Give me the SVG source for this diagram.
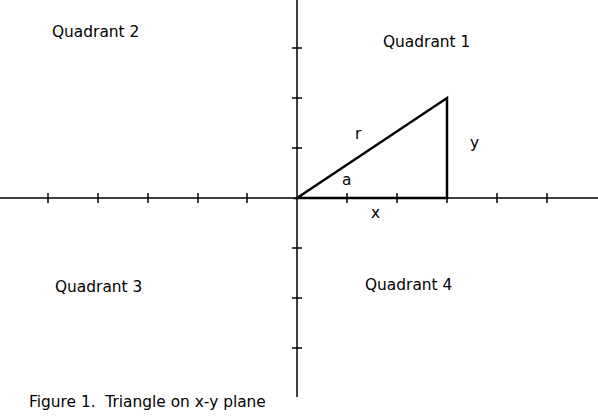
<svg xmlns="http://www.w3.org/2000/svg" width="598" height="418" viewBox="0 0 598 418">
<style>
text{font-family:"DejaVu Sans",sans-serif;font-size:15.4px;fill:#000;white-space:pre}
.ax{stroke:#000;stroke-width:1.5;fill:none}
.tk{stroke:#000;stroke-width:1.5}
.tri{stroke:#000;stroke-width:2.5;fill:none;stroke-linejoin:miter}
</style>
<rect width="598" height="418" fill="#fff"/>
<g id="axes">
<line class="ax" x1="0" y1="198" x2="598" y2="198"/>
<line class="ax" x1="297" y1="0" x2="297" y2="397"/>
<g id="xticks" class="tk">
<line x1="48" y1="193" x2="48" y2="203"/>
<line x1="98" y1="193" x2="98" y2="203"/>
<line x1="148" y1="193" x2="148" y2="203"/>
<line x1="198" y1="193" x2="198" y2="203"/>
<line x1="247" y1="193" x2="247" y2="203"/>
<line x1="347" y1="193" x2="347" y2="203"/>
<line x1="397" y1="193" x2="397" y2="203"/>
<line x1="447" y1="193" x2="447" y2="203"/>
<line x1="497" y1="193" x2="497" y2="203"/>
<line x1="547" y1="193" x2="547" y2="203"/>
</g>
<g id="yticks" class="tk">
<line x1="292" y1="48" x2="302" y2="48"/>
<line x1="292" y1="98" x2="302" y2="98"/>
<line x1="292" y1="148" x2="302" y2="148"/>
<line x1="292" y1="248" x2="302" y2="248"/>
<line x1="292" y1="298" x2="302" y2="298"/>
<line x1="292" y1="348" x2="302" y2="348"/>
</g>
</g>
<g id="triangle">
<polygon class="tri" points="297,198 447,98 447,198"/>
</g>
<g id="labels">
<text x="355" y="139">r</text>
<text x="470" y="148">y</text>
<text x="342" y="185">a</text>
<text x="371" y="218">x</text>
</g>
<g id="quadrants">
<text x="52" y="37">Quadrant 2</text>
<text x="383" y="47">Quadrant 1</text>
<text x="55" y="292">Quadrant 3</text>
<text x="365" y="290">Quadrant 4</text>
</g>
<text id="caption" x="29" y="407" xml:space="preserve">Figure 1.  Triangle on x-y plane</text>
</svg>
